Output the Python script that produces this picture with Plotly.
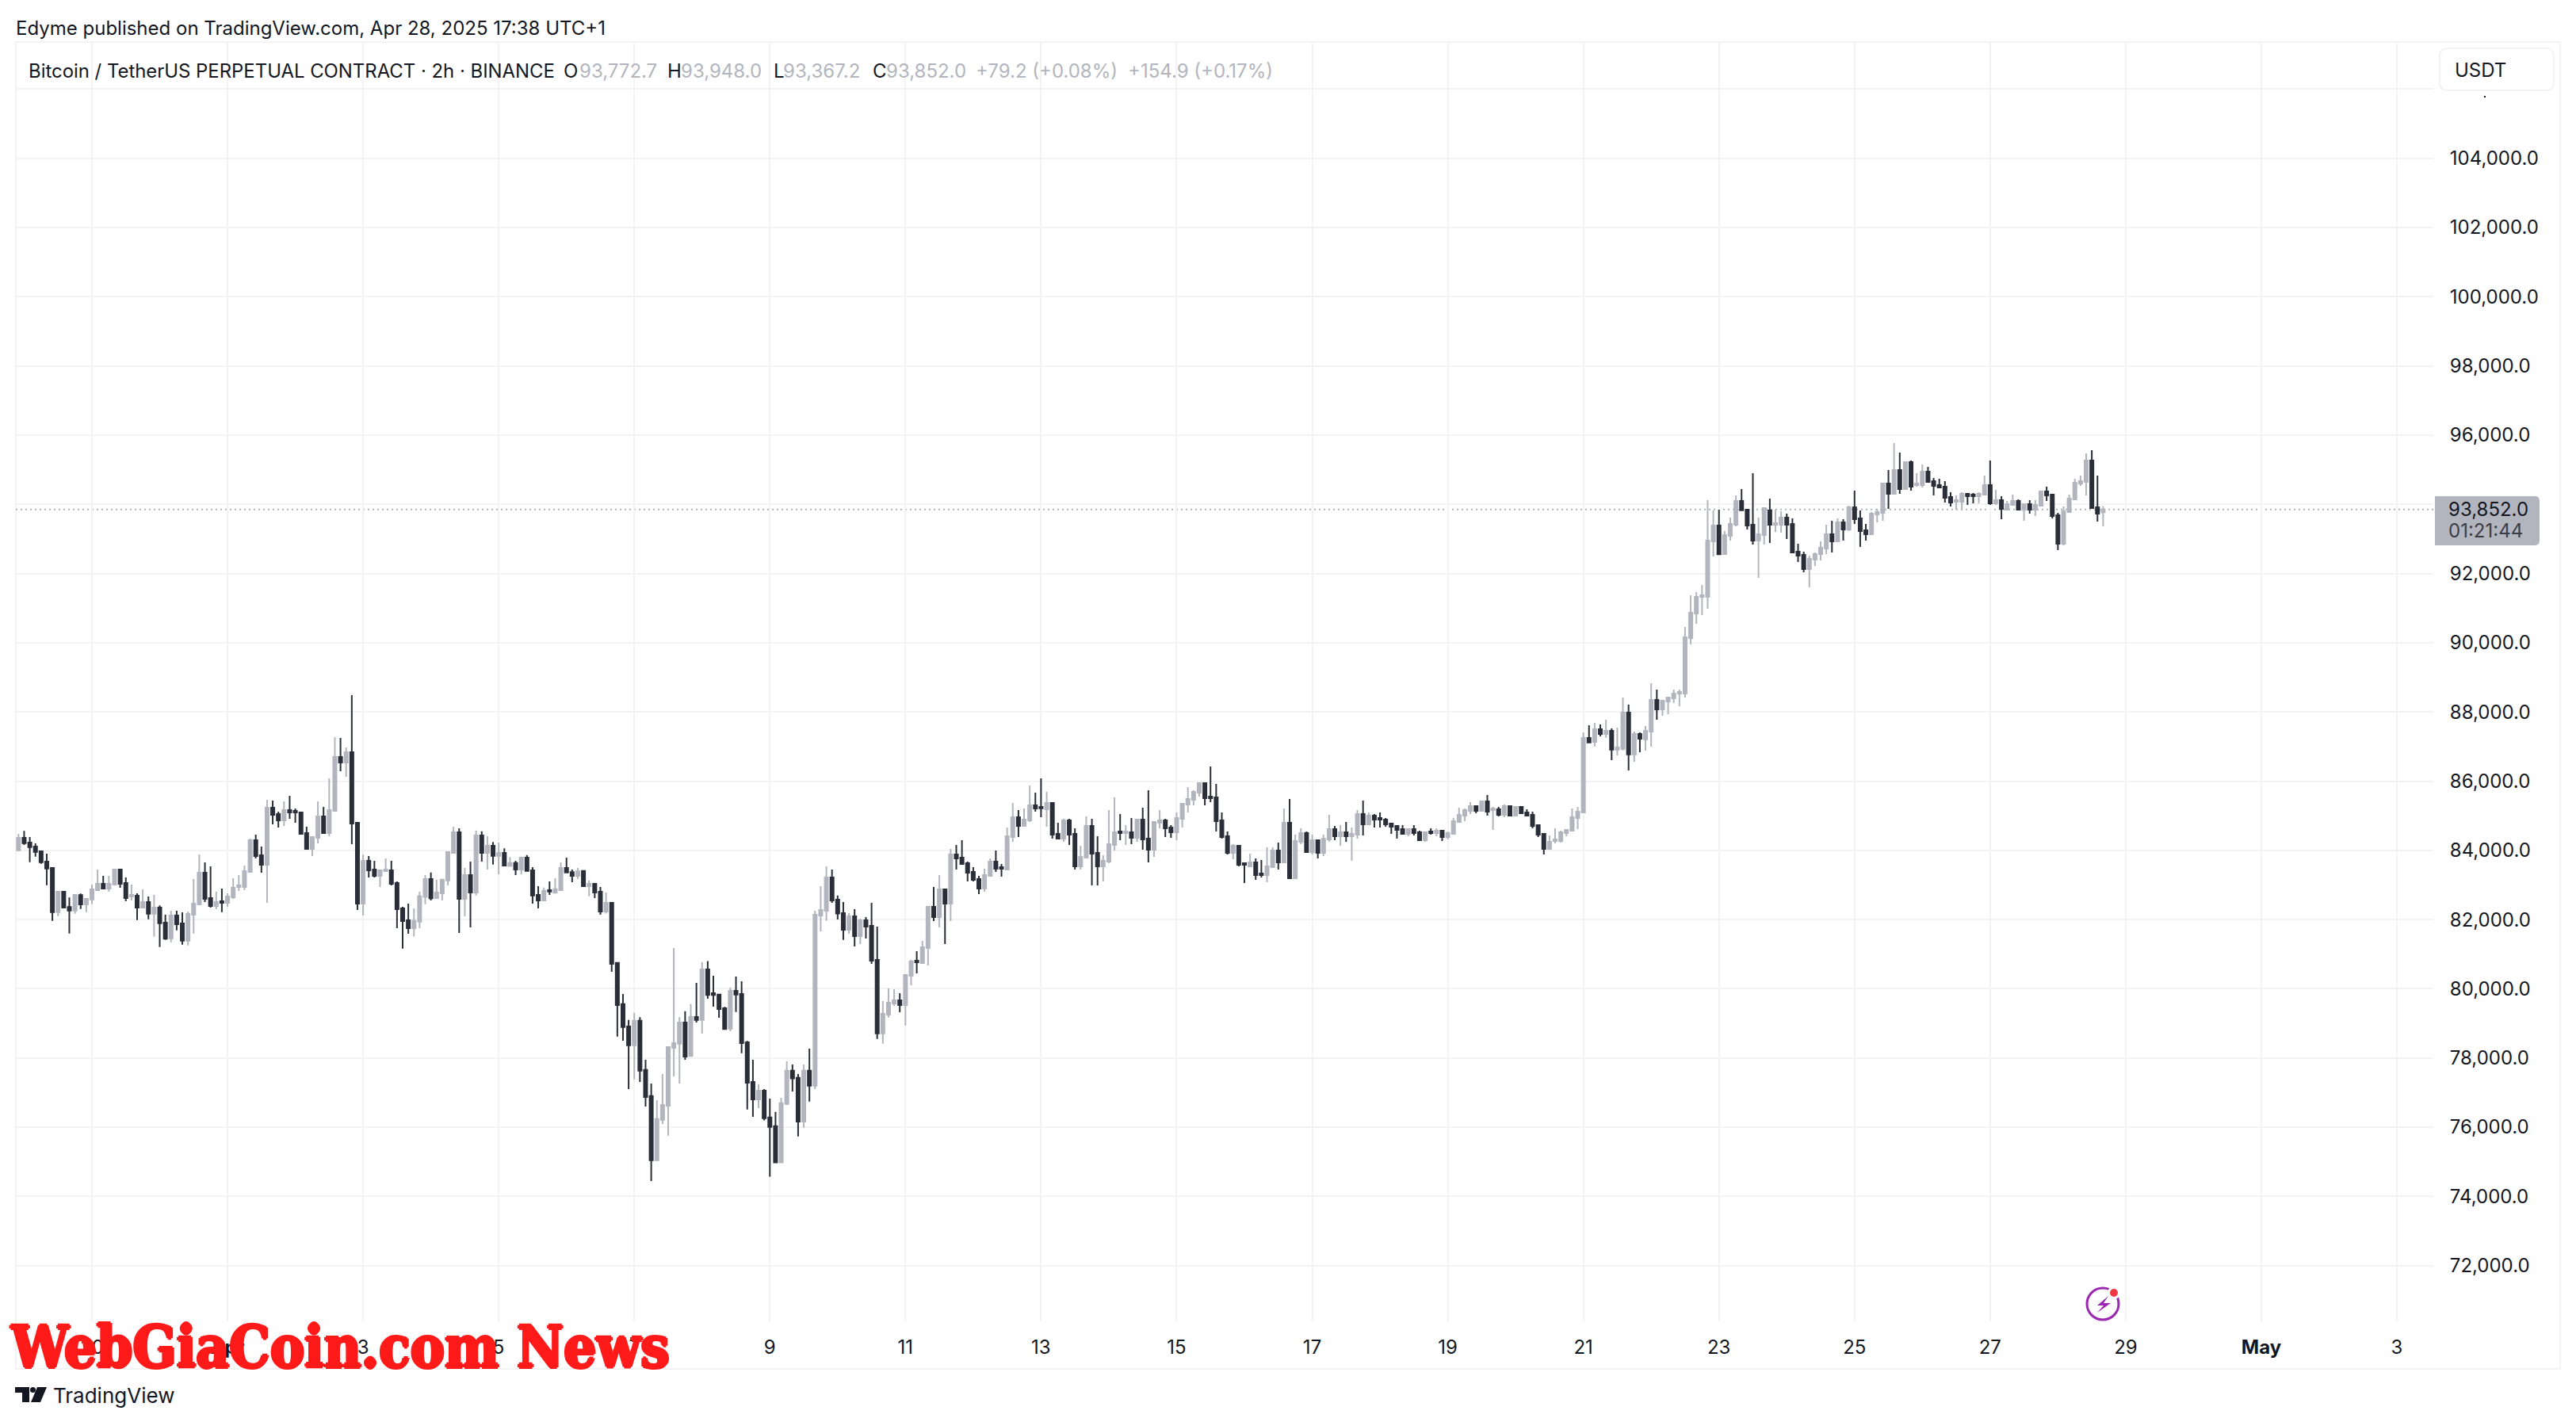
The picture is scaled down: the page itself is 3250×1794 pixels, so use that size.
import pandas as pd
import plotly.graph_objects as go

opens = [
84004,84363,84226,84111,83974,83676,83493,82217,82805,82362,
82263,82706,82439,82584,82851,83034,82897,83012,83447,83057,
82668,82691,82347,82507,82172,82347,81912,81461,82118,81889,
81393,82141,82439,83355,82622,82393,82531,82485,82645,82943,
82943,83378,84294,83859,83584,85234,85050,84867,85165,85142,
85096,84501,84042,84363,84981,84501,85142,86700,86539,86837,
84798,82462,83699,83447,83264,83401,83424,83057,82324,81980,
81749,81938,82656,83169,82624,82758,83129,83926,84525,82601,
83287,82782,84431,83926,84131,83839,83926,83547,83634,83445,
83792,83421,82711,82553,82853,82774,82853,83492,83374,83263,
83405,82963,83034,82806,82230,82482,80747,79556,78909,78365,
79075,77655,76898,75044,76211,76622,78294,78412,79027,78057,
79185,79098,80558,79871,79832,79438,78846,79942,79848,78451,
77308,76803,77055,76282,76030,74980,76669,77631,77426,76164,
77631,77197,82119,82254,83216,82577,82187,81705,82095,81522,
81980,81820,80835,78712,79254,79575,79667,79529,80377,80812,
80743,81179,82370,82072,82874,82461,83882,83790,83630,83378,
83172,82897,83263,83676,83515,83446,84386,84958,84706,84867,
85302,85256,85188,85371,84477,84340,84867,84477,83538,83790,
84706,83928,83538,83676,84157,84546,84500,84523,84363,84890,
84340,84019,84798,84867,84661,84523,84913,85325,85462,85669,
85943,85554,85531,84867,84409,83928,84134,83630,83538,83653,
83332,83286,83515,83996,83653,84798,83194,84248,84500,83950,
84294,83928,84317,84615,84409,84523,84409,84454,85050,84752,
85004,84936,84890,84775,84706,84615,84477,84615,84523,84294,
84546,84500,84569,84386,84477,84821,85004,85142,85279,85142,
85417,85165,85188,85027,85279,85004,85256,85096,85027,84729,
84477,84042,84271,84271,84500,84569,84936,85096,87250,87135,
87501,87364,87456,86913,86936,87982,86776,87364,87211,87433,
88349,88074,88303,88395,88532,88532,90136,90846,91327,91327,
92931,93389,92564,93091,93412,94099,93847,93412,92954,93114,
93824,93412,93412,93618,93435,92633,92541,92129,92404,92564,
92724,93137,92931,93480,93274,93916,93595,93251,93137,93710,
93755,94602,94305,94992,94442,95221,94557,94557,94946,94671,
94557,94511,94213,94076,94076,94305,94282,94236,94282,94557,
94030,94122,93846,93984,94098,93846,94007,93846,93961,94373,
94282,93686,92861,93778,94144,94602,94648,95267,93915,93772.7]

highs = [
84478,84562,84386,84203,83974,83905,83508,82805,82820,82637,
82736,82752,82622,83012,83447,83264,83264,83470,83470,83218,
83012,82760,82874,82668,82714,82408,82141,82255,82255,82210,
82233,83172,83882,83653,83538,82805,82897,82760,83195,83287,
83561,84340,84455,84111,85463,85440,85119,85417,85577,85211,
85119,84684,84409,85417,85257,86081,87272,87249,86975,88486,
84798,83882,83836,83699,83447,83768,83699,83103,82370,82462,
82325,82806,83287,83358,83153,83169,83973,84683,84636,83492,
83673,84573,84549,84407,84241,84225,84060,83807,83697,83815,
83863,83516,82963,82924,83105,83192,83650,83792,83445,83492,
83421,83129,83034,82940,82782,82498,80747,79848,79098,79303,
79177,77947,77260,76779,77536,78317,81181,79177,79351,79556,
80171,80770,80802,80376,79832,79477,80037,80352,80218,78491,
77947,77236,77103,76827,76440,76850,77907,77812,77536,77812,
78270,82254,82963,83539,83445,82695,82507,82187,82301,82026,
82072,82484,81797,79644,80010,79987,79873,80400,80835,81087,
81385,82393,82943,83286,82874,84042,84157,84294,83676,83515,
83263,83469,83767,83996,83607,84661,85371,85165,85210,85875,
85669,86081,85691,85394,84798,84913,84913,84638,84134,84981,
84913,84409,83859,85165,85531,85050,84729,84936,84913,85233,
85737,84844,85165,84913,84729,85096,85371,85829,85737,85943,
85966,86425,85921,85096,84546,84180,84134,83653,83905,83767,
83721,84088,84088,84225,85210,85485,84454,84638,84546,84454,
84294,84454,85027,84706,84729,84821,84661,85165,85440,85096,
85050,85096,84936,84798,84729,84729,84638,84729,84569,84546,
84638,84638,84592,84546,84936,85233,85210,85394,85302,85440,
85600,85256,85256,85325,85302,85279,85279,85188,85119,84729,
84477,84432,84638,84569,84615,85210,85256,87410,87616,87685,
87639,87776,87524,87547,88418,88212,87433,87410,87593,88830,
88647,88349,88441,88647,88647,90456,91373,91464,91671,94122,
93824,93847,93228,93618,94259,94443,93847,94900,93618,93916,
94168,93847,93801,93732,93595,92862,92633,92518,92610,92931,
93412,93526,93595,93572,93962,94397,93824,93435,93778,93870,
94626,94992,95771,95496,95244,95267,94900,95152,95083,94763,
94740,94671,94351,94259,94351,94328,94328,94351,94832,95267,
94419,94236,94098,94282,94144,94030,94122,94122,94373,94511,
94282,93755,93938,94282,94740,94832,95473,95565,94832,93948]

lows = [
84004,84157,83660,83821,83615,82996,81965,82103,82332,81599,
82172,82309,82217,82446,82851,82874,82805,83012,82920,82531,
82553,81988,82347,82011,81507,81209,81415,81347,81691,81278,
81255,81599,82439,82507,82347,82301,82217,82370,82599,82828,
82851,83378,83768,83355,82485,84753,84661,84707,84913,84798,
84478,84042,83836,84203,84478,84409,85119,86287,86127,84180,
82278,82118,83218,83218,82943,83378,82988,81751,81164,81591,
81512,81749,82443,82553,82624,82553,82987,83926,81615,82096,
81772,82695,83673,83445,83587,83310,83563,83547,83287,83310,
83405,82459,82325,82553,82711,82758,82853,83358,83082,83169,
82963,82671,82624,82143,82175,80494,78617,78499,77103,77379,
77308,76598,74444,75044,76093,75754,77465,77260,77947,78057,
79027,78704,79713,79485,79161,78822,78775,79327,78136,76511,
76298,76550,76195,74570,74957,74957,76645,77031,75730,75982,
76740,77103,81662,81961,82482,82001,81415,81591,81224,81293,
81453,80720,78552,78414,79170,79506,79323,78941,80102,80445,
80743,80675,81957,81774,81293,81957,83446,83584,83103,83103,
82736,82805,83263,83378,83240,83424,84248,84386,84706,84821,
85119,84958,84684,84340,84340,84248,84157,83446,83446,83790,
82988,82988,83103,83630,83996,84294,84157,84180,84248,84019,
83653,83813,84638,84386,84363,84294,84661,85096,85302,85554,
85302,85394,84546,84340,83882,83744,83538,83057,83538,83149,
83218,83080,83515,83446,83653,83194,83194,84180,83950,83882,
83767,83836,84248,84294,84134,84248,83698,84340,84432,84752,
84661,84661,84684,84477,84340,84477,84409,84432,84294,84248,
84454,84409,84271,84317,84454,84821,84844,85050,85073,85142,
85004,84592,84981,84958,85004,84981,85050,85004,84638,84386,
83882,84042,84202,84225,84409,84569,84615,85096,87097,87005,
87295,87257,86608,86745,86890,86310,86562,86837,86883,86997,
87776,87890,87937,88257,88166,88418,89953,90548,90800,90983,
92495,92541,92564,92954,93366,93832,93274,92839,91877,92839,
92885,93206,93183,92999,92587,92335,92037,91602,92220,92381,
92564,92610,92931,92954,93228,93435,92770,92954,93137,93481,
93526,93869,94305,94305,94442,94396,94511,94488,94648,94259,
94488,94053,93938,93846,93824,93984,94030,94030,94282,93984,
93984,93572,93846,93961,93824,93526,93732,93663,93938,94098,
93595,92678,92816,93778,94144,94534,94259,93869,93503,93367.2]

closes = [
84363,84210,84096,83958,83660,83477,82217,82805,82347,82263,
82714,82439,82599,82874,83034,82897,83034,83447,83034,82622,
82714,82347,82507,82172,82347,81897,81446,82118,81866,81393,
82164,82462,83355,82599,82393,82507,82485,82668,82920,82988,
83401,84294,83836,83584,85234,85027,84867,85165,85096,85096,
84478,84042,84386,84981,84501,85165,86700,86539,86837,84775,
82462,83699,83424,83264,83424,83447,83034,82301,81957,81751,
81962,82671,83169,82616,82782,83153,83949,84525,82601,83287,
82782,84431,83926,84131,83839,83926,83563,83634,83445,83792,
83405,82695,82553,82829,82813,82877,83492,83358,83263,83397,
82963,83034,82782,82230,82482,80723,79532,78893,78365,79075,
77631,76874,75044,76235,76645,78317,78428,79027,78041,79185,
79098,80558,79824,79824,79414,78838,79942,79832,78428,77284,
76803,77055,76259,76006,74980,76693,77631,77410,76164,77631,
77197,82143,82277,83216,82553,82175,81705,82095,81522,81980,
81797,80812,78712,79277,79598,79667,79529,80400,80789,80766,
81202,82370,82072,82874,82461,83882,83767,83607,83355,83149,
82897,83286,83676,83469,83469,84409,84958,84706,84890,85302,
85210,85218,85371,84454,84340,84867,84454,83538,83813,84706,
83905,83538,83698,84180,84523,84500,84546,84363,84890,84317,
84019,84821,84867,84638,84523,84936,85348,85485,85691,85943,
85508,85508,84844,84386,83928,84134,83584,83584,83653,83286,
83286,83538,83996,83653,84798,83194,84271,84500,83950,84294,
83928,84340,84615,84409,84523,84409,84477,85050,84752,85004,
84890,84890,84752,84684,84592,84477,84615,84500,84294,84523,
84500,84569,84386,84500,84844,85027,85165,85279,85142,85417,
85119,85210,85027,85279,85004,85256,85073,85004,84706,84454,
84042,84248,84317,84523,84592,84958,85119,87250,87120,87501,
87364,87456,86913,86974,87982,86776,87364,87227,87456,88349,
88074,88326,88418,88532,88578,90159,90869,91327,91373,92954,
93389,92556,93114,93435,94099,93832,93389,92954,93137,93893,
93412,93458,93618,93412,92610,92518,92129,92427,92564,92747,
93137,92931,93480,93274,93916,93572,93228,93137,93732,93778,
94603,94305,94992,94442,95221,94511,94602,94946,94648,94534,
94488,94190,94053,94122,94305,94236,94236,94305,94557,94030,
94122,93869,94007,94098,93846,94007,93846,93984,94373,94259,
93663,92861,93801,94167,94625,94671,95267,93892,93732,93852]

first_bar = "2025-03-28 22:00"
price_ticks = list(range(72000, 108000, 2000))
price_labels = [f"{v:,.1f}" if v < 106000 else "" for v in price_ticks]
date_ticks = ["2025-03-30", "2025-04-01", "2025-04-03", "2025-04-05", "2025-04-07", "2025-04-09",
              "2025-04-11", "2025-04-13", "2025-04-15", "2025-04-17", "2025-04-19", "2025-04-21",
              "2025-04-23", "2025-04-25", "2025-04-27", "2025-04-29", "2025-05-01", "2025-05-03"]
date_labels = ["30", "<b>Apr</b>", "3", "5", "7", "9", "11", "13", "15", "17", "19", "21", "23", "25",
               "27", "29", "<b>May</b>", "3"]

UP = "#B2B5BE"
DOWN = "#2A2E39"
GRID = "#F3F3F4"
INK = "#131722"
RED = "#FF1A1A"
W, H = 3250, 1794
L, R, T, B = 20, 3070, 53, 1667

def px(x):
    return (x - L) / (R - L)

def py(y):
    return 1 - (y - T) / (B - T)

bars = pd.date_range(first_bar, periods=len(opens), freq="2h")

fig = go.Figure(go.Candlestick(
    x=bars, open=opens, high=highs, low=lows, close=closes,
    whiskerwidth=0,
    increasing=dict(line=dict(color=UP, width=2), fillcolor=UP),
    decreasing=dict(line=dict(color=DOWN, width=2), fillcolor=DOWN),
    hoverinfo="skip",
))

def rect(x0, y0, x1, y1, **kw):
    return dict(type="rect", xref="paper", yref="paper", x0=px(x0), x1=px(x1), y0=py(y0), y1=py(y1), **kw)

def poly(points, **kw):
    d = "M " + " L ".join(f"{px(a):.6f},{py(b):.6f}" for a, b in points) + " Z"
    return dict(type="path", xref="paper", yref="paper", path=d, **kw)

def disc(cx, cy, r, **kw):
    return dict(type="circle", xref="paper", yref="paper", x0=px(cx - r), x1=px(cx + r),
                y0=py(cy + r), y1=py(cy - r), **kw)

def rounded(x0, y0, x1, y1, r):
    return (f"M {px(x0):.6f},{py(y0):.6f} L {px(x1 - r):.6f},{py(y0):.6f} "
            f"Q {px(x1):.6f},{py(y0):.6f} {px(x1):.6f},{py(y0 + r):.6f} "
            f"L {px(x1):.6f},{py(y1 - r):.6f} Q {px(x1):.6f},{py(y1):.6f} {px(x1 - r):.6f},{py(y1):.6f} "
            f"L {px(x0):.6f},{py(y1):.6f} Z")

nl = dict(width=0)
shapes = [
    # frame
    rect(20, 53, 3230, 1727, line=dict(color=GRID, width=2), layer="below"),
    # last price line
    dict(type="line", xref="paper", yref="y", x0=0, x1=1, y0=closes[-1], y1=closes[-1], layer="below",
         line=dict(color=UP, width=2, dash="2px,4px")),
    # price label
    dict(type="path", xref="paper", yref="paper", path=rounded(3072, 626, 3204, 688, 6),
         fillcolor=UP, line=nl, layer="above"),
    # currency button
    dict(type="path", xref="paper", yref="paper",
         path=(f"M {px(3088):.6f},{py(61):.6f} L {px(3212):.6f},{py(61):.6f} Q {px(3222):.6f},{py(61):.6f} {px(3222):.6f},{py(71):.6f} "
               f"L {px(3222):.6f},{py(104):.6f} Q {px(3222):.6f},{py(114):.6f} {px(3212):.6f},{py(114):.6f} "
               f"L {px(3088):.6f},{py(114):.6f} Q {px(3078):.6f},{py(114):.6f} {px(3078):.6f},{py(104):.6f} "
               f"L {px(3078):.6f},{py(71):.6f} Q {px(3078):.6f},{py(61):.6f} {px(3088):.6f},{py(61):.6f} Z"),
         fillcolor="white", line=dict(color=GRID, width=2), layer="above"),
    rect(3134, 121, 3136, 123, fillcolor=INK, line=nl, layer="above"),
    # lightning icon
    disc(2653, 1645, 20, line=dict(color="#9C27B0", width=3), fillcolor="white", layer="above"),
    disc(2667, 1631, 8, line=nl, fillcolor="white", layer="above"),
    disc(2667, 1631, 5, line=nl, fillcolor="#F23645", layer="above"),
    poly([(2660, 1635), (2646, 1647), (2654, 1647), (2646, 1656), (2663, 1644), (2654, 1644)],
         fillcolor="#9C27B0", line=nl, layer="above"),
    # TradingView mark
    poly([(19, 1750), (37, 1750), (37, 1769), (28, 1769), (28, 1757), (19, 1757)],
         fillcolor=INK, line=nl, layer="above"),
    disc(41.5, 1753.5, 3.5, fillcolor=INK, line=nl, layer="above"),
    poly([(47, 1750), (59, 1750), (51, 1769), (39, 1769)], fillcolor=INK, line=nl, layer="above"),
]

def label(text, x, y, size=24, color=INK, family="Inter", shadow=None):
    font = dict(family=family, size=size, color=color)
    if shadow:
        font["shadow"] = shadow
    return dict(text=text, x=px(x - 2), y=py(y), xref="paper", yref="paper", showarrow=False,
                xanchor="left", yanchor="middle", align="left", font=font)

annotations = [
    label("Edyme published on TradingView.com, Apr 28, 2025 17:38 UTC+1", 20, 36),
    label("Bitcoin / TetherUS PERPETUAL CONTRACT · 2h · BINANCE", 36, 90, size=23.9),
    label("O", 711, 90), label("93,772.7", 731, 90, color=UP),
    label("H", 842, 90), label("93,948.0", 859, 90, color=UP),
    label("L", 976, 90), label("93,367.2", 988, 90, color=UP),
    label("C", 1101, 90), label("93,852.0", 1118, 90, color=UP),
    label("+79.2 (+0.08%)", 1231, 90, color=UP),
    label("+154.9 (+0.17%)", 1423, 90, color=UP),
    label("USDT", 3097, 88, color=INK),
    label("93,852.0", 3089, 642, color=INK),
    label("01:21:44", 3089, 669, color="#3A3D46"),
    label("TradingView", 67, 1761, size=26),
    label("<b>WebGiaCoin.com News</b>", 13, 1699, size=72, color=RED, family="DejaVu Serif Condensed",
          shadow=f"2px 0 0 {RED},-2px 0 0 {RED},0 2px 0 {RED},0 -2px 0 {RED}"),
]

fig.update_layout(
    width=W, height=H,
    margin=dict(l=L, r=W - R, t=T, b=H - B, pad=0),
    paper_bgcolor="white", plot_bgcolor="white",
    showlegend=False, dragmode=False, boxgap=0.44, boxgroupgap=0,
    font=dict(family="Inter", size=24, color=INK),
    shapes=shapes, annotations=annotations,
    xaxis=dict(
        type="date", range=["2025-03-28 21:04", "2025-05-03 12:54"],
        rangeslider=dict(visible=False), tickmode="array", tickvals=date_ticks, ticktext=date_labels,
        showgrid=True, gridcolor=GRID, gridwidth=2, zeroline=False, showline=False,
        ticks="outside", ticklen=11, tickcolor="rgba(0,0,0,0)", tickfont=dict(family="Inter", size=24, color=INK),
    ),
    yaxis=dict(
        side="right", range=[70389, 107362], tickmode="array", tickvals=price_ticks, ticktext=price_labels,
        showgrid=True, gridcolor=GRID, gridwidth=2, zeroline=False, showline=False,
        ticks="outside", ticklen=15, tickcolor="rgba(0,0,0,0)", tickfont=dict(family="Inter", size=24, color=INK),
    ),
)

fig.write_html("out.html", config=dict(displayModeBar=False),
               post_script="document.body.style.margin='0';document.body.style.overflow='hidden';")
